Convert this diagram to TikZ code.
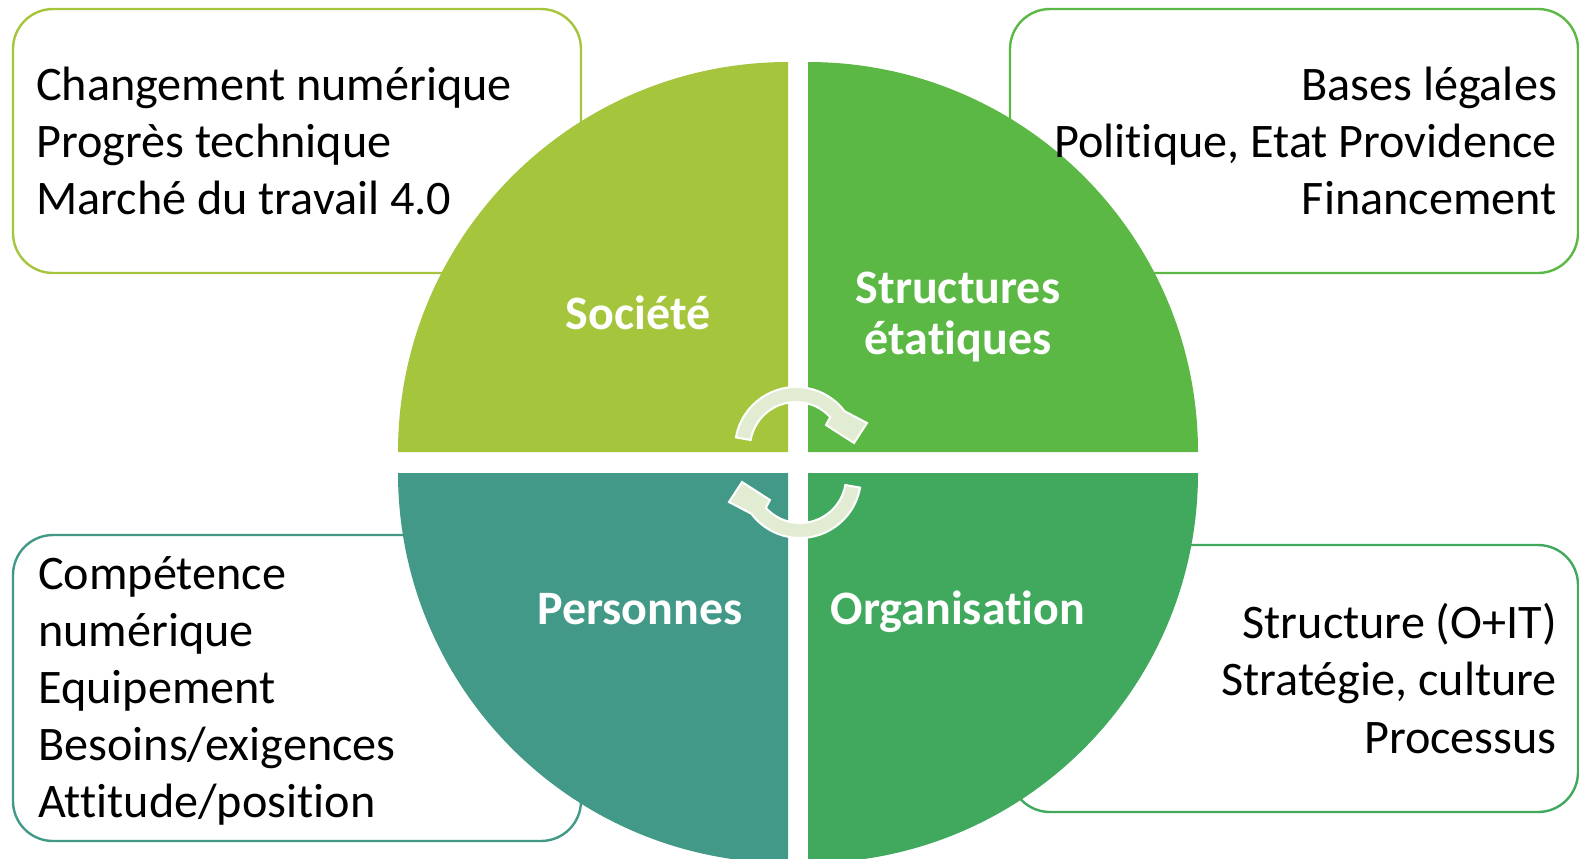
\documentclass[tikz,border=0pt]{standalone}
\usepackage{fontspec}
\setmainfont{Carlito}[Ligatures={NoCommon}]
\usetikzlibrary{calc}
\usetikzlibrary{positioning}
\definecolor{soccolor}{RGB}{165,197,60}
\definecolor{etatcolor}{RGB}{92,184,68}
\definecolor{orgcolor}{RGB}{65,169,94}
\definecolor{perscolor}{RGB}{67,153,135}
\definecolor{arrowcolor}{RGB}{226,236,211}
\tikzset{
	boxstyle/.style={rectangle,rounded corners=20pt,line width=1.2pt,fill=white,minimum width=284pt},
	itemstyle/.style={inner sep=0pt,font=\fontsize{24.1}{28.6}\selectfont},
	labelstyle/.style={inner sep=0pt,text=white,align=center,font=\fontsize{24}{25.5}\selectfont\bfseries},
	arrowstyle/.style={fill=arrowcolor,draw=white,line width=1pt},
	cyclearrow/.pic={
		\path[arrowstyle] (190:46) -- (190:61) arc[start angle=190,end angle=323,radius=61]
			-- (71,-25) -- (58,-5) -- (30,-23) -- (318:46) arc[start angle=318,end angle=190,radius=46] -- cycle;
	}
}
\begin{document}
\begin{tikzpicture}[x=0.5pt,y=-0.5pt]
	\useasboundingbox (0,0) rectangle (1579,858);
	\clip (0,0) rectangle (1579,858);
	% boxes behind the circle
	\node[boxstyle,draw=soccolor,minimum height=132pt] (socbox) at (297,141) {};
	\node[boxstyle,draw=etatcolor,minimum height=132pt] (etatbox) at (1294,141) {};
	\node[boxstyle,draw=perscolor,minimum height=153pt] (persbox) at (297,688) {};
	\node[boxstyle,draw=orgcolor,minimum height=133.5pt] (orgbox) at (1294,678.5) {};
	% quarters
	\fill[soccolor] (788,452) -- ++(-390,0) arc[start angle=180,end angle=270,radius=390] -- cycle;
	\fill[etatcolor] (808,452) -- ++(0,-390) arc[start angle=270,end angle=360,radius=390] -- cycle;
	\fill[orgcolor] (808,473) -- ++(390,0) arc[start angle=0,end angle=90,radius=390] -- cycle;
	\fill[perscolor] (788,473) -- ++(0,390) arc[start angle=90,end angle=180,radius=390] -- cycle;
	\node[labelstyle] (soc) at (638,313) {Société};
	\node[labelstyle] (etat) at (958,317) {Structures\\étatiques};
	\node[labelstyle,anchor=base] (pers) at (640,624) {Personnes};
	\node[labelstyle,anchor=base] (org) at (958,624) {Organisation};
	% arrows in the middle
	\pic (toparrow) at (796,448) {cyclearrow};
	\pic[rotate=180] (botarrow) at (800,477) {cyclearrow};
	% texts of the boxes
	\node[itemstyle,align=left,right=12pt of socbox.west] (soctext) {Changement numérique\\Progrès technique\\Marché du travail 4.0};
	\node[itemstyle,align=right,left=11pt of etatbox.east] (etattext) {Bases légales\\Politique, Etat Providence\\Financement};
	\node[itemstyle,align=left,right=13pt of persbox.west,yshift=-1.5pt] (perstext) {Compétence\\numérique\\Equipement\\Besoins/exigences\\Attitude/position};
	\node[itemstyle,align=right,left=11pt of orgbox.east] (orgtext) {Structure (O+IT)\\Stratégie, culture\\Processus};
\end{tikzpicture}
\end{document}
